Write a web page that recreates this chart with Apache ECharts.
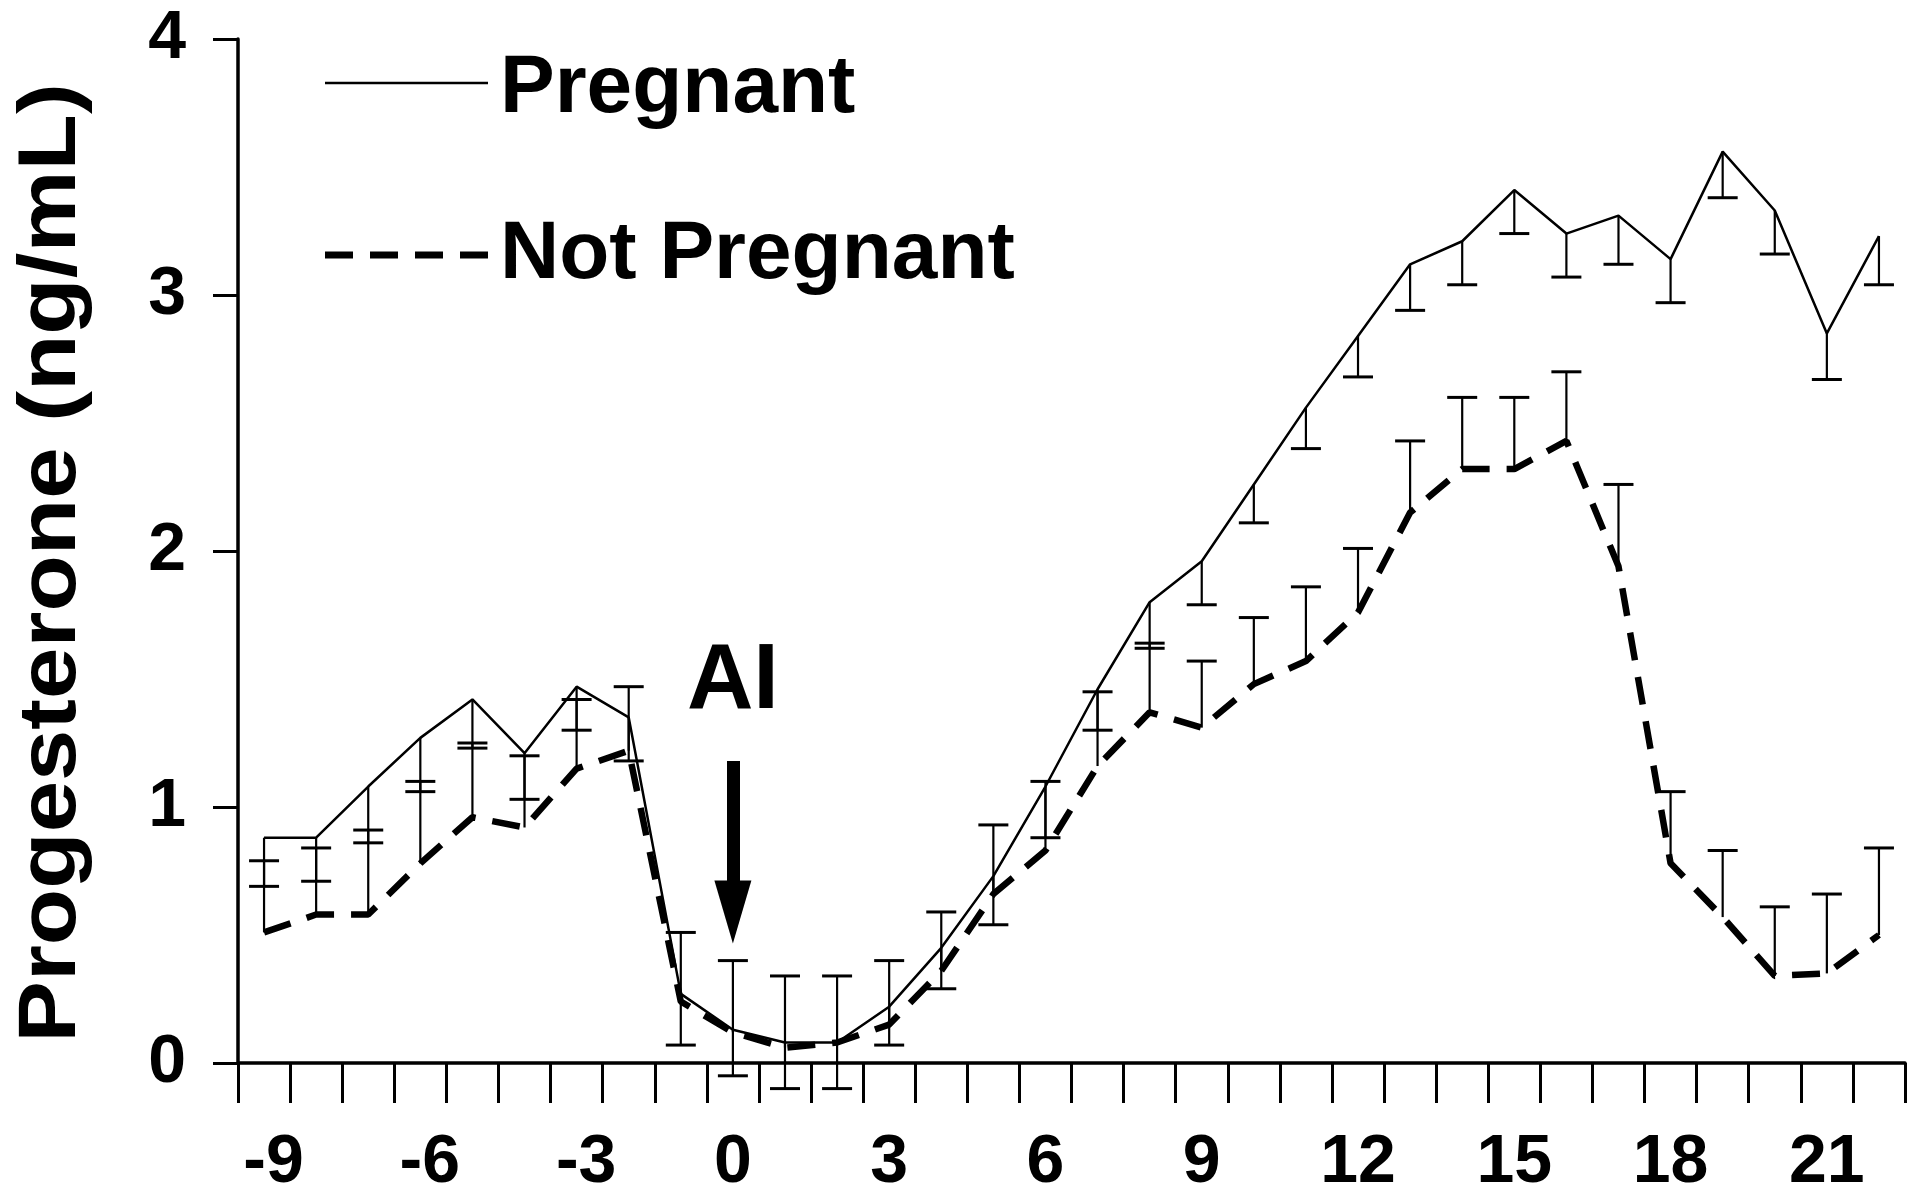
<!DOCTYPE html>
<html lang="en">
<head>
    <meta charset="UTF-8">
    <title>Progesterone</title>
    <script src="https://cdn.jsdelivr.net/npm/echarts@6/dist/echarts.min.js"></script>
    <style>
        html, body { margin: 0; padding: 0; background: #fff; }
    </style>
</head>
<body>
    <div id="main" style="width: 1915px;height:1200px;"></div>
    <script type="text/javascript">
        // days relative to AI
        var days = ['-9', '-8', '-7', '-6', '-5', '-4', '-3', '-2', '-1', '0', '1', '2', '3', '4', '5', '6',
            '7', '8', '9', '10', '11', '12', '13', '14', '15', '16', '17', '18', '19', '20', '21', '22'];

        // Pregnant: mean and lower end of error bar
        var pregMean = [0.88, 0.88, 1.08, 1.27, 1.42, 1.21, 1.47, 1.35, 0.27, 0.13, 0.08, 0.08, 0.22, 0.45, 0.73, 1.08,
            1.46, 1.80, 1.96, 2.26, 2.56, 2.84, 3.12, 3.21, 3.41, 3.24, 3.31, 3.14, 3.56, 3.33, 2.85, 3.23];
        var pregLow = [0.69, 0.71, 0.86, 1.06, 1.23, 1.03, 1.30, 1.18, 0.07, -0.05, -0.10, -0.10, 0.07, 0.29, 0.54, 0.88,
            1.30, 1.62, 1.79, 2.11, 2.40, 2.68, 2.94, 3.04, 3.24, 3.07, 3.12, 2.97, 3.38, 3.16, 2.67, 3.04];

        // Not pregnant: mean and upper end of error bar
        var openMean = [0.51, 0.58, 0.58, 0.78, 0.96, 0.92, 1.15, 1.22, 0.24, 0.12, 0.06, 0.08, 0.15, 0.36, 0.66, 0.83,
            1.16, 1.37, 1.31, 1.48, 1.57, 1.76, 2.15, 2.32, 2.32, 2.43, 1.94, 0.78, 0.57, 0.34, 0.35, 0.50];
        var openHigh = [0.79, 0.84, 0.91, 1.10, 1.25, 1.20, 1.42, 1.47, 0.51, 0.40, 0.34, 0.34, 0.40, 0.59, 0.93, 1.10,
            1.45, 1.64, 1.57, 1.74, 1.86, 2.01, 2.43, 2.60, 2.60, 2.70, 2.26, 1.06, 0.83, 0.61, 0.66, 0.84];

        var yTicks = [0, 1, 2, 3, 4];

        var FONT = "'Liberation Sans', Arial, Helvetica, sans-serif";

        var myChart = echarts.init(document.getElementById('main'));

        function barData(mean, end) {
            var out = [];
            for (var i = 0; i < days.length; i++) {
                out.push([i, mean[i], end[i]]);
            }
            return out;
        }

        // error bar: stem from mean to end, cap at end
        function renderBar(params, api) {
            var m = api.coord([api.value(0), api.value(1)]);
            var e = api.coord([api.value(0), api.value(2)]);
            return {
                type: 'group',
                children: [{
                    type: 'line',
                    shape: {x1: m[0], y1: m[1], x2: e[0], y2: e[1]},
                    style: {stroke: '#000', lineWidth: 2.2}
                }, {
                    type: 'line',
                    shape: {x1: e[0] - 15, y1: e[1], x2: e[0] + 15, y2: e[1]},
                    style: {stroke: '#000', lineWidth: 3}
                }]
            };
        }

        var aiIndex = days.indexOf('0');

        var option = {
            animation: false,
            backgroundColor: '#fff',
            grid: {
                left: 238,
                right: 10,
                top: 39,
                bottom: 137,
                containLabel: false,
                outerBoundsMode: 'none'
            },
            xAxis: {
                type: 'category',
                data: days,
                boundaryGap: true,
                axisLine: {lineStyle: {color: '#000', width: 3.5}},
                axisTick: {show: true, interval: 0, length: 40, lineStyle: {color: '#000', width: 3}},
                axisLabel: {
                    interval: function (i, v) { return Number(v) % 3 === 0; },
                    margin: 66,
                    color: '#000',
                    fontSize: 68,
                    fontWeight: 'bold',
                    fontFamily: FONT,
                    formatter: function (v) {
                        return Number(v) < 0 ? '{neg|' + v + '}' : v;
                    },
                    rich: {
                        neg: {
                            padding: [0, 0, 0, 19],
                            color: '#000',
                            fontSize: 68,
                            fontWeight: 'bold',
                            fontFamily: FONT
                        }
                    }
                },
                splitLine: {show: false}
            },
            yAxis: {
                type: 'value',
                min: yTicks[0],
                max: yTicks[yTicks.length - 1],
                interval: 1,
                axisLine: {show: true, lineStyle: {color: '#000', width: 3.5}},
                axisTick: {show: true, length: 25, lineStyle: {color: '#000', width: 3}},
                axisLabel: {
                    margin: 52,
                    color: '#000',
                    fontSize: 68,
                    fontWeight: 'bold',
                    fontFamily: FONT
                },
                splitLine: {show: false}
            },
            series: [{
                name: 'Pregnant',
                type: 'line',
                data: pregMean,
                symbol: 'none',
                lineStyle: {color: '#000', width: 2.5},
                z: 4,
                markLine: {
                    silent: true,
                    animation: false,
                    lineStyle: {color: '#000', width: 13, type: 'solid'},
                    label: {
                        show: true,
                        position: 'start',
                        formatter: 'AI',
                        distance: 32,
                        color: '#000',
                        fontSize: 92,
                        fontWeight: 'bold',
                        fontFamily: FONT
                    },
                    data: [[
                        {coord: [aiIndex, 1.18], symbol: 'none'},
                        {coord: [aiIndex, 0.59], symbol: 'triangle', symbolSize: [37, 63]}
                    ]]
                }
            }, {
                name: 'Not Pregnant',
                type: 'line',
                data: openMean,
                symbol: 'none',
                lineStyle: {color: '#000', width: 6.5, type: [28, 17]},
                z: 3
            }, {
                name: 'Pregnant SE',
                type: 'custom',
                renderItem: renderBar,
                data: barData(pregMean, pregLow),
                encode: {x: 0, y: [1, 2]},
                z: 5
            }, {
                name: 'Not Pregnant SE',
                type: 'custom',
                renderItem: renderBar,
                data: barData(openMean, openHigh),
                encode: {x: 0, y: [1, 2]},
                z: 5
            }],
            graphic: [
                // y axis title, stretched along its length like the original
                {
                    type: 'text',
                    x: 53,
                    y: 563,
                    rotation: Math.PI / 2,
                    scaleX: 1.14,
                    style: {
                        text: 'Progesterone (ng/mL)',
                        font: 'bold 81px ' + FONT,
                        fill: '#000',
                        align: 'center',
                        verticalAlign: 'middle'
                    }
                },
                // legend
                {
                    type: 'line',
                    shape: {x1: 325, y1: 83, x2: 488, y2: 83},
                    style: {stroke: '#000', lineWidth: 2.5}
                },
                {
                    type: 'text',
                    x: 500,
                    y: 89,
                    style: {
                        text: 'Pregnant',
                        font: 'bold 82px ' + FONT,
                        fill: '#000',
                        align: 'left',
                        verticalAlign: 'middle'
                    }
                },
                {
                    type: 'line',
                    shape: {x1: 325, y1: 255, x2: 488, y2: 255},
                    style: {stroke: '#000', lineWidth: 7, lineDash: [28, 17]}
                },
                {
                    type: 'text',
                    x: 500,
                    y: 255,
                    style: {
                        text: 'Not Pregnant',
                        font: 'bold 82px ' + FONT,
                        fill: '#000',
                        align: 'left',
                        verticalAlign: 'middle'
                    }
                }
            ]
        };

        myChart.setOption(option);
    </script>
</body>
</html>
